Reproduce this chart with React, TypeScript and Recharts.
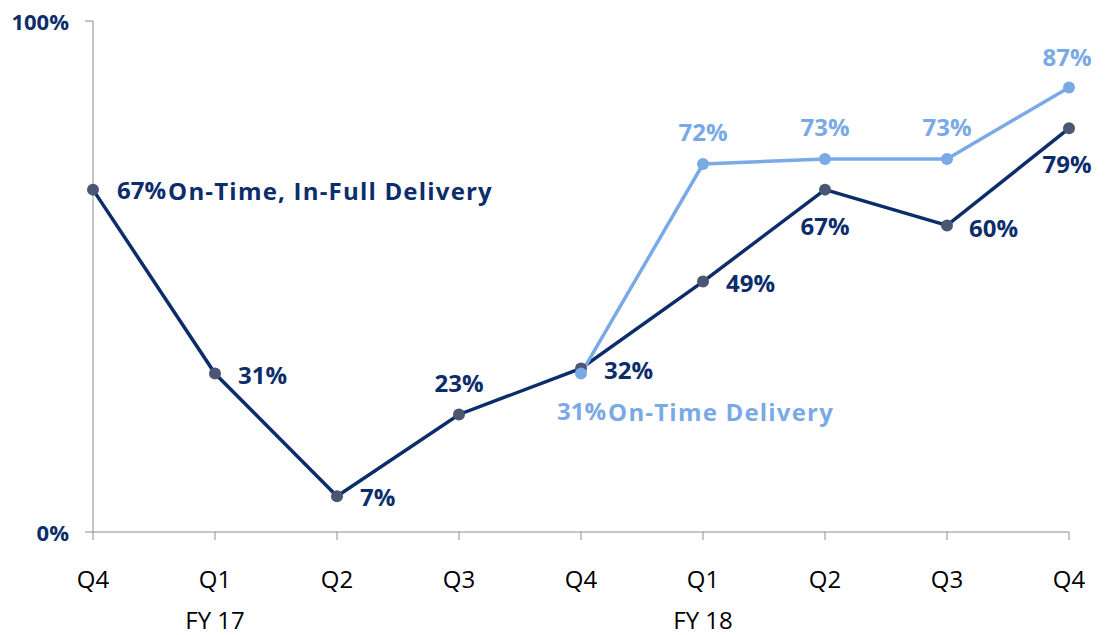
import React from 'react';
import { LineChart, Line, XAxis, YAxis, LabelList } from 'recharts';

const quarters = ['Q4', 'Q1', 'Q2', 'Q3', 'Q4', 'Q1', 'Q2', 'Q3', 'Q4'];
const fiscalYears = ['', 'FY 17', '', '', '', 'FY 18', '', '', ''];
const otifValues = [67, 31, 7, 23, 32, 49, 67, 60, 79];
const otdValues: (number | null)[] = [null, null, null, null, 31, 72, 73, 73, 87];
const yTicks = [0, 100];

const otifName = 'On-Time, In-Full Delivery';
const otdName = 'On-Time Delivery';

const data = quarters.map((q, i) => ({ i, q, otif: otifValues[i], otd: otdValues[i] }));

const DARK = '#0c2d6b';
const DOT_DARK = '#4a5672';
const LIGHT = '#7aaae6';
const AXIS = '#8c8c8c';
const FONT = '"Open Sans", Lato, sans-serif';

// label placement: [dx, dy, anchor]
const otifPlace: [number, number, string][] = [
  [24, 0, 'start'], [23, 1, 'start'], [23, 0, 'start'], [0, -32, 'middle'], [23, 1, 'start'],
  [23, 1, 'start'], [0, 36, 'middle'], [22, 2, 'start'], [-2, 35, 'middle'],
];
const otdPlace: [number, number, string][] = [
  [0, 0, 'middle'], [0, 0, 'middle'], [0, 0, 'middle'], [0, 0, 'middle'], [-24, 37, 'start'],
  [0, -33, 'middle'], [0, -32, 'middle'], [0, -32, 'middle'], [-2, -31, 'middle'],
];

const makeLabel = (place: [number, number, string][], color: string, nameIdx: number, name: string) =>
  (props: any) => {
    const { x, y, value, index } = props;
    if (value == null) return null;
    const [dx, dy, anchor] = place[index];
    return (
      <text
        x={x + dx}
        y={y + dy}
        textAnchor={anchor as any}
        dominantBaseline="central"
        fill={color}
        fontFamily={FONT}
        fontWeight={700}
        fontSize={24}
      >
        {value}%
        {index === nameIdx ? <tspan dx={2} letterSpacing={1.2}>{name}</tspan> : null}
      </text>
    );
  };

const XTick = (props: any) => {
  const { x, y, index } = props;
  return (
    <g>
      <text x={x} y={y} dy={38} textAnchor="middle" dominantBaseline="central" fill="#000" fontFamily={FONT} fontSize={24}>
        {quarters[index]}
      </text>
      {fiscalYears[index] ? (
        <text x={x} y={y} dy={79} textAnchor="middle" dominantBaseline="central" fill="#000" fontFamily={FONT} fontSize={24}>
          {fiscalYears[index]}
        </text>
      ) : null}
    </g>
  );
};

const YTick = (props: any) => {
  const { x, y, payload } = props;
  return (
    <text x={x} y={y} textAnchor="end" dominantBaseline="central" fill={DARK} fontFamily={FONT} fontWeight={700} fontSize={22}>
      {payload.value}%
    </text>
  );
};

export default function App() {
  return (
    <div style={{ position: 'absolute', left: 0, top: 0, width: 1114, height: 635, background: '#fff' }}>
      <LineChart width={1114} height={635} data={data} margin={{ top: 21, right: 45, bottom: 0, left: 0 }}>
        <XAxis
          dataKey="i"
          type="category"
          height={103}
          tick={<XTick />}
          tickLine={{ stroke: AXIS }}
          axisLine={{ stroke: AXIS }}
          tickSize={8}
          tickMargin={0}
          interval={0}
        />
        <YAxis
          width={93}
          domain={[0, 100]}
          ticks={yTicks}
          tick={<YTick />}
          tickLine={{ stroke: AXIS }}
          axisLine={{ stroke: AXIS }}
          tickSize={8}
          tickMargin={16}
        />
        <Line
          dataKey="otif"
          stroke={DARK}
          strokeWidth={3.5}
          dot={{ r: 6, fill: DOT_DARK, stroke: DOT_DARK, strokeWidth: 0 }}
          isAnimationActive={false}
        >
          <LabelList dataKey="otif" content={makeLabel(otifPlace, DARK, 0, otifName)} />
        </Line>
        <Line
          dataKey="otd"
          stroke={LIGHT}
          strokeWidth={3.5}
          dot={{ r: 6, fill: LIGHT, stroke: LIGHT, strokeWidth: 0 }}
          isAnimationActive={false}
        >
          <LabelList dataKey="otd" content={makeLabel(otdPlace, LIGHT, 4, otdName)} />
        </Line>
      </LineChart>
    </div>
  );
}
